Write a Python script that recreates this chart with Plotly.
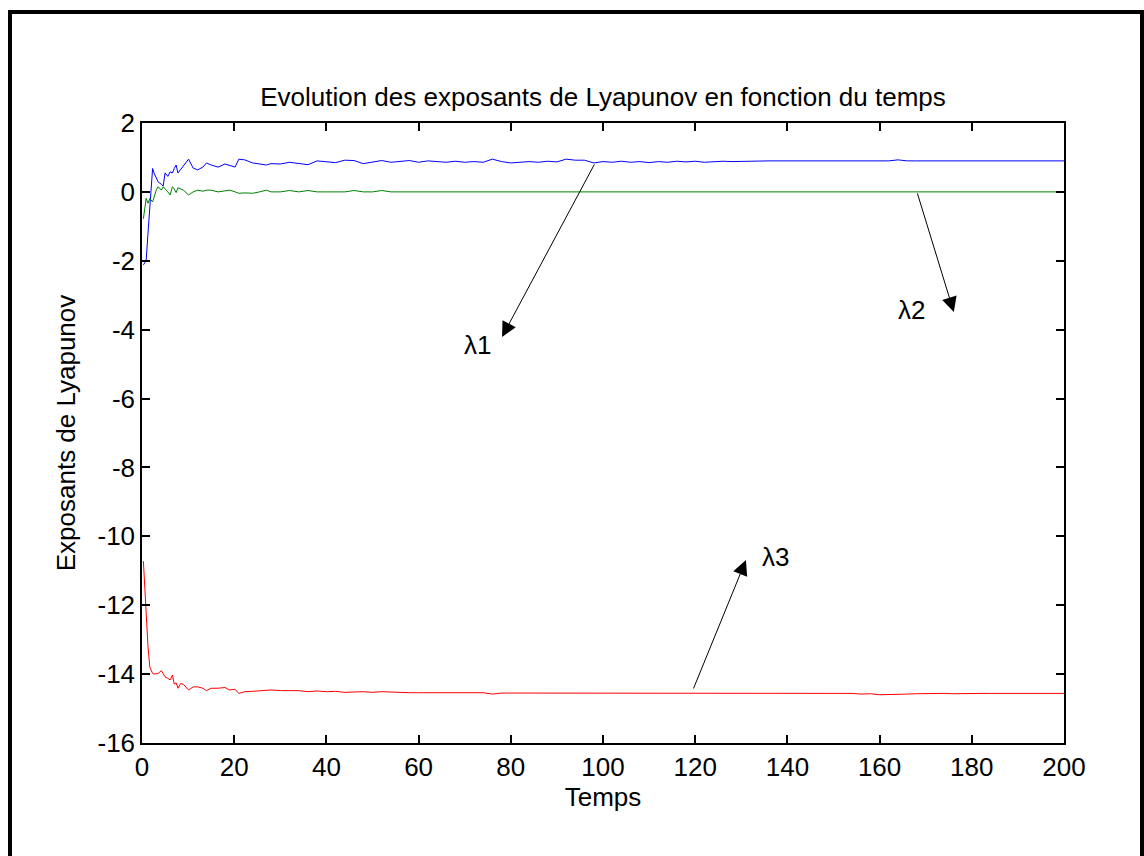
import plotly.graph_objects as go

# ---------------- data ----------------
t_early = [0.3, 0.9, 1.3, 1.7, 2.3, 2.6, 3.1, 3.5, 4.2, 4.6,
           5.0, 5.6, 6.1, 6.6, 7.0, 7.4, 7.8, 8.4, 9.0, 10.1,
           11.1, 12.1, 13.2, 14.0, 15.0, 16.5, 18.0, 19.0, 20.2, 21.0,
           22.3, 24.0, 25.5, 27.0, 28.0]
t_late = [30, 32, 34, 36, 38, 40, 42, 44, 46, 48,
          50, 52, 54, 56, 58, 60, 62, 64, 66, 68,
          70, 72, 74, 76, 78, 80, 82, 84, 86, 88,
          90, 92, 94, 96, 98, 100, 102, 104, 106, 108,
          110, 112, 114, 116, 118, 120, 122, 124, 126, 128,
          130, 132, 134, 136, 138, 140, 142, 144, 146, 148,
          150, 152, 154, 156, 158, 160, 162, 164, 166, 168,
          170, 172, 174, 176, 178, 180, 182, 184, 186, 188,
          190, 192, 194, 196, 198, 200]
temps = t_early + t_late

lambda1 = [-2.12, -2.0, -1.2, -0.3, 0.68, 0.55, 0.38, 0.29, 0.22, 0.17,
           0.55, 0.45, 0.58, 0.55, 0.68, 0.78, 0.55, 0.65, 0.75, 0.95,
           0.69, 0.64, 0.72, 0.84, 0.78, 0.72, 0.81, 0.76, 0.72, 0.95,
           0.93, 0.84, 0.81, 0.78, 0.82,
           # t = 30 .. 48
           0.81, 0.86, 0.83, 0.79, 0.90, 0.88, 0.85, 0.92, 0.91, 0.82,
           # t = 50 .. 68
           0.86, 0.91, 0.86, 0.88, 0.91, 0.86, 0.90, 0.88, 0.86, 0.89,
           # t = 70 .. 88
           0.86, 0.88, 0.86, 0.95, 0.88, 0.84, 0.85, 0.88, 0.86, 0.89,
           # t = 90 .. 108
           0.87, 0.95, 0.92, 0.92, 0.84, 0.88, 0.86, 0.89, 0.86, 0.88,
           # t = 110 .. 128
           0.85, 0.88, 0.86, 0.89, 0.87, 0.89, 0.86, 0.88, 0.89, 0.88,
           # t = 130 .. 148
           0.89, 0.90, 0.89, 0.90, 0.90, 0.90, 0.90, 0.90, 0.90, 0.90,
           # t = 150 .. 168
           0.90, 0.90, 0.90, 0.90, 0.90, 0.90, 0.90, 0.93, 0.90, 0.90,
           # t = 170 .. 188
           0.90, 0.90, 0.90, 0.90, 0.90, 0.90, 0.90, 0.90, 0.90, 0.90,
           # t = 190 .. 200
           0.90, 0.90, 0.90, 0.90, 0.90, 0.90]

lambda2 = [-0.78, -0.19, -0.33, -0.19, -0.29, -0.15, 0.05, 0.15, 0.05, 0.15,
           0.10, 0.0, -0.09, 0.15, 0.08, -0.02, 0.12, 0.08, 0.05, -0.09,
           0.0, 0.05, 0.02, 0.05, 0.05, 0.0, 0.02, 0.05, 0.0, -0.04,
           -0.03, -0.04, 0.0, 0.05, 0.0,
           # t = 30 .. 48
           0.0, 0.04, 0.0, 0.04, 0.0, 0.0, 0.0, 0.0, 0.04, 0.0,
           # t = 50 .. 68
           0.0, 0.04, 0.0, 0.0, 0.0, 0.0, 0.0, 0.0, 0.0, 0.0,
           # t = 70 .. 88
           0.0, 0.0, 0.0, 0.0, 0.0, 0.0, 0.0, 0.0, 0.0, 0.0,
           # t = 90 .. 108
           0.0, 0.0, 0.0, 0.0, 0.0, 0.0, 0.0, 0.0, 0.0, 0.0,
           # t = 110 .. 128
           0.0, 0.0, 0.0, 0.0, 0.0, 0.0, 0.0, 0.0, 0.0, 0.0,
           # t = 130 .. 148
           0.0, 0.0, 0.0, 0.0, 0.0, 0.0, 0.0, 0.0, 0.0, 0.0,
           # t = 150 .. 168
           0.0, 0.0, 0.0, 0.0, 0.0, 0.0, 0.0, 0.0, 0.0, 0.0,
           # t = 170 .. 188
           0.0, 0.0, 0.0, 0.0, 0.0, 0.0, 0.0, 0.0, 0.0, 0.0,
           # t = 190 .. 200
           0.0, 0.0, 0.0, 0.0, 0.0, 0.0]

lambda3 = [-10.72, -12.3, -13.2, -13.8, -13.98, -14.0, -13.99, -13.98, -13.9, -13.98,
           -14.08, -14.12, -14.17, -14.03, -14.29, -14.25, -14.41, -14.27, -14.3, -14.46,
           -14.37, -14.37, -14.41, -14.48, -14.41, -14.41, -14.39, -14.46, -14.44, -14.56,
           -14.51, -14.50, -14.48, -14.47, -14.46,
           # t = 30 .. 48
           -14.48, -14.47, -14.48, -14.51, -14.49, -14.51, -14.50, -14.53, -14.52, -14.51,
           # t = 50 .. 68
           -14.53, -14.51, -14.52, -14.54, -14.54, -14.54, -14.54, -14.54, -14.54, -14.54,
           # t = 70 .. 88
           -14.54, -14.54, -14.54, -14.58, -14.55, -14.55, -14.55, -14.55, -14.55, -14.55,
           # t = 90 .. 108
           -14.55, -14.55, -14.55, -14.55, -14.55, -14.55, -14.55, -14.55, -14.55, -14.55,
           # t = 110 .. 128
           -14.55, -14.55, -14.55, -14.55, -14.55, -14.55, -14.55, -14.55, -14.55, -14.55,
           # t = 130 .. 148
           -14.55, -14.55, -14.55, -14.57, -14.55, -14.57, -14.55, -14.57, -14.56, -14.57,
           # t = 150 .. 168
           -14.55, -14.57, -14.56, -14.58, -14.57, -14.60, -14.60, -14.59, -14.58, -14.57,
           # t = 170 .. 188
           -14.56, -14.57, -14.56, -14.57, -14.56, -14.56, -14.56, -14.56, -14.56, -14.56,
           # t = 190 .. 200
           -14.56, -14.56, -14.56, -14.56, -14.56, -14.56]

x_ticks = [0, 20, 40, 60, 80, 100, 120, 140, 160, 180, 200]
y_ticks = [2, 0, -2, -4, -6, -8, -10, -12, -14, -16]

# arrows: (head_x, head_y, tail_x, tail_y) and labels (x, y, text)
arrows = [(78.1, -4.21, 98.3, 0.84), (176.1, -3.49, 168.1, 0.0), (131.0, -10.69, 119.5, -14.46)]
labels = [(72.7, -4.45, "λ1"), (167.0, -3.43, "λ2"), (137.5, -10.6, "λ3")]

FONT = "Liberation Sans, Arial, sans-serif"
FS = 26

# plot area in px
L, R, T, B = 142, 80, 123, 113
W, H = 1144, 856
PW, PH = W - L - R, H - T - B

fig = go.Figure()
fig.add_trace(go.Scatter(x=temps, y=lambda1, mode="lines", line=dict(color="#0000FF", width=1), name="λ1"))
fig.add_trace(go.Scatter(x=temps, y=lambda2, mode="lines", line=dict(color="#008000", width=1), name="λ2"))
fig.add_trace(go.Scatter(x=temps, y=lambda3, mode="lines", line=dict(color="#FF0000", width=1), name="λ3"))

annotations = []
for hx, hy, tx, ty in arrows:
    annotations.append(dict(x=hx, y=hy, ax=tx, ay=ty, xref="x", yref="y", axref="x", ayref="y",
                            text="", showarrow=True, arrowhead=2, arrowsize=3, arrowwidth=1,
                            arrowcolor="black", standoff=0, startstandoff=0))
for lx, ly, txt in labels:
    annotations.append(dict(x=lx, y=ly, xref="x", yref="y", text=txt, showarrow=False,
                            font=dict(family=FONT, size=FS, color="black")))


def px2paper_x(p):
    return (p - L) / PW


def px2paper_y(p):
    return (H - B - p) / PH


fig.update_layout(
    width=W, height=H,
    margin=dict(l=L, r=R, t=T, b=B),
    paper_bgcolor="white", plot_bgcolor="white",
    showlegend=False,
    font=dict(family=FONT, size=FS, color="black"),
    title=dict(text="Evolution des exposants de Lyapunov en fonction du temps",
               x=(L + PW / 2) / W, xanchor="center", y=1 - 97 / H, yanchor="middle",
               font=dict(family=FONT, size=FS, color="black")),
    xaxis=dict(range=[0, 200], tickvals=x_ticks, ticktext=[str(v) for v in x_ticks],
               showgrid=False, zeroline=False, showline=True, linecolor="black", linewidth=1.5,
               mirror="ticks", ticks="inside", ticklen=8, tickcolor="black", tickwidth=1.5,
               tickfont=dict(family=FONT, size=FS),
               title=dict(text="Temps", standoff=0, font=dict(family=FONT, size=FS))),
    yaxis=dict(range=[-16, 2], tickvals=y_ticks, ticktext=[str(v) for v in y_ticks],
               showgrid=False, zeroline=False, showline=True, linecolor="black", linewidth=1.5,
               mirror="ticks", ticks="inside", ticklen=8, tickcolor="black", tickwidth=1.5,
               tickfont=dict(family=FONT, size=FS),
               title=dict(text="Exposants de Lyapunov", standoff=14, font=dict(family=FONT, size=FS))),
    annotations=annotations,
    shapes=[dict(type="rect", xref="paper", yref="paper",
                 x0=px2paper_x(10), x1=px2paper_x(1142), y0=px2paper_y(880), y1=px2paper_y(12),
                 line=dict(color="black", width=4), fillcolor="rgba(0,0,0,0)", layer="above")],
)

fig.write_html("out.html")
